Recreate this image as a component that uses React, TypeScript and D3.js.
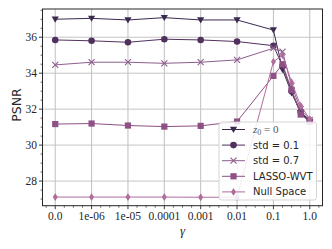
import React from "react";
import * as d3 from "d3";

// gamma positions on the (index-like) x axis and their tick labels
const gammaTickLabels = ["0.0", "1e-06", "1e-05", "0.0001", "0.001", "0.01", "0.1", "1.0"];
const gammaPos = [0, 1, 2, 3, 4, 5, 6, 6.25, 6.5, 6.75, 7];

// PSNR per series
const z0Values = [37.0, 37.05, 36.96, 37.09, 36.96, 36.96, 36.4, 34.2, 32.9, 31.8, 31.3];
const std01Values = [35.85, 35.8, 35.72, 35.89, 35.85, 35.76, 35.53, 34.4, 33.0, 31.85, 31.35];
const std07Values = [34.46, 34.61, 34.61, 34.55, 34.61, 34.74, 35.39, 35.2, 33.3, 32.0, 31.4];
const lassoValues = [31.17, 31.2, 31.09, 31.03, 31.07, 31.31, 33.85, 34.5, 33.07, 31.7, 31.3];
const nullValues = [27.11, 27.11, 27.11, 27.11, 27.1, 27.1, 34.64, 35.0, 33.5, 32.2, 31.45];

const seriesNames = ["z0", "std = 0.1", "std = 0.7", "LASSO-WVT", "Null Space"];
const yTicks = [28, 30, 32, 34, 36];

const W = 332;
const H = 249;
const margin = { left: 42.5, right: 9.5, top: 9, bottom: 43.3 };

const series = [
  { name: seriesNames[0], values: z0Values, color: "#3b2a4f", marker: "tri" },
  { name: seriesNames[1], values: std01Values, color: "#52305e", marker: "circle" },
  { name: seriesNames[2], values: std07Values, color: "#8d5e8e", marker: "x" },
  { name: seriesNames[3], values: lassoValues, color: "#8e5085", marker: "square" },
  { name: seriesNames[4], values: nullValues, color: "#b06c9c", marker: "diamond" },
];

const Marker = ({ type, x, y, color }: { type: string; x: number; y: number; color: string }) => {
  if (type === "tri") {
    const s = 3.6;
    return <path d={`M${x - s},${y - s * 0.75}L${x + s},${y - s * 0.75}L${x},${y + s * 0.95}Z`} fill={color} />;
  }
  if (type === "circle") return <circle cx={x} cy={y} r={3.3} fill={color} />;
  if (type === "x") {
    const s = 3;
    return (
      <path d={`M${x - s},${y - s}L${x + s},${y + s}M${x - s},${y + s}L${x + s},${y - s}`} stroke={color} strokeWidth={1.1} fill="none" />
    );
  }
  if (type === "square") return <rect x={x - 3.1} y={y - 3.1} width={6.2} height={6.2} fill={color} />;
  return <path d={`M${x},${y - 3.9}L${x + 2.5},${y}L${x},${y + 3.9}L${x - 2.5},${y}Z`} fill={color} />;
};

export default function App() {
  const x = d3.scaleLinear().domain([-0.35, 7.35]).range([margin.left, W - margin.right]);
  const y = d3.scaleLinear().domain([26.63, 37.57]).range([H - margin.bottom, margin.top]);
  const line = d3
    .line<number>()
    .x((_, i) => x(gammaPos[i]))
    .y((d) => y(d));

  const x0 = margin.left;
  const x1 = W - margin.right;
  const y0 = H - margin.bottom;
  const y1 = margin.top;

  const xMinor = d3.range(-0.25, 7.3, 0.25).filter((v) => Math.abs(v - Math.round(v)) > 0.01);
  const yMinor = d3.range(27, 37.6, 0.5).filter((v) => v % 2 !== 0);

  const serif = "'Liberation Serif', 'DejaVu Serif', serif";
  const sans = "'DejaVu Sans', sans-serif";

  const legX = 219;
  const legY = 122;
  const rowH = 15.6;

  return (
    <svg width={W} height={H} style={{ position: "absolute", left: 0, top: 0 }}>
      <rect width={W} height={H} fill="#fff" />
      {/* grid */}
      {gammaTickLabels.map((_, i) => (
        <line key={"gx" + i} x1={x(i)} x2={x(i)} y1={y1} y2={y0} stroke="#b8b8b8" strokeWidth={0.9} />
      ))}
      {yTicks.map((t) => (
        <line key={"gy" + t} x1={x0} x2={x1} y1={y(t)} y2={y(t)} stroke="#c4c4c4" strokeWidth={1} />
      ))}
      {/* series */}
      {series.map((s) => (
        <g key={s.name}>
          <path d={line(s.values) || ""} fill="none" stroke={s.color} strokeWidth={1} />
          {s.values.map((v, i) => (
            <Marker key={i} type={s.marker} x={x(gammaPos[i])} y={y(v)} color={s.color} />
          ))}
        </g>
      ))}
      {/* frame */}
      <rect x={x0} y={y1} width={x1 - x0} height={y0 - y1} fill="none" stroke="#262626" strokeWidth={1} />
      {/* x ticks */}
      {gammaTickLabels.map((lab, i) => (
        <g key={"xt" + i}>
          <line x1={x(i)} x2={x(i)} y1={y0} y2={y0 + 3.5} stroke="#262626" strokeWidth={0.9} />
          <text x={x(i)} y={219.5} textAnchor="middle" fontFamily={serif} fontSize={11.5} fill="#262626">
            {lab}
          </text>
        </g>
      ))}
      {xMinor.map((v) => (
        <line key={"xm" + v} x1={x(v)} x2={x(v)} y1={y0} y2={y0 + 2} stroke="#262626" strokeWidth={0.7} />
      ))}
      {/* y ticks */}
      {yTicks.map((t) => (
        <g key={"yt" + t}>
          <line x1={x0 - 3.5} x2={x0} y1={y(t)} y2={y(t)} stroke="#262626" strokeWidth={0.9} />
          <text x={37} y={y(t)} dy="0.35em" textAnchor="end" fontFamily={serif} fontSize={11.5} fill="#262626">
            {t}
          </text>
        </g>
      ))}
      {yMinor.map((v) => (
        <line key={"ym" + v} x1={x0 - 2} x2={x0} y1={y(v)} y2={y(v)} stroke="#262626" strokeWidth={0.7} />
      ))}
      {/* axis labels */}
      <text transform={`translate(20.5,105) rotate(-90)`} textAnchor="middle" fontFamily={sans} fontSize={12.5} fill="#262626">
        PSNR
      </text>
      <text x={182.5} y={235} textAnchor="middle" fontFamily={serif} fontStyle="italic" fontSize={13} fill="#262626">
        γ
      </text>
      {/* legend */}
      <rect x={legX} y={legY} width={97.5} height={78} rx={2.5} fill="#fff" fillOpacity={0.85} stroke="#d0d0d0" strokeWidth={0.9} />
      {series.map((s, i) => {
        const cy = legY + 7.5 + i * rowH;
        return (
          <g key={"lg" + i}>
            <line x1={222} x2={245} y1={cy} y2={cy} stroke={s.color} strokeWidth={1} />
            <Marker type={s.marker} x={233.5} y={cy} color={s.color} />
            {i === 0 ? (
              <text x={253} y={cy} dy="0.35em" fontFamily={serif} fontSize={11} fill="#555">
                <tspan fontStyle="italic">z</tspan>
                <tspan fontSize={8} dy={2}>0</tspan>
                <tspan dy={-2}> = 0</tspan>
              </text>
            ) : (
              <text x={253} y={cy} dy="0.35em" fontFamily={sans} fontSize={10} fill="#262626">
                {s.name}
              </text>
            )}
          </g>
        );
      })}
    </svg>
  );
}
